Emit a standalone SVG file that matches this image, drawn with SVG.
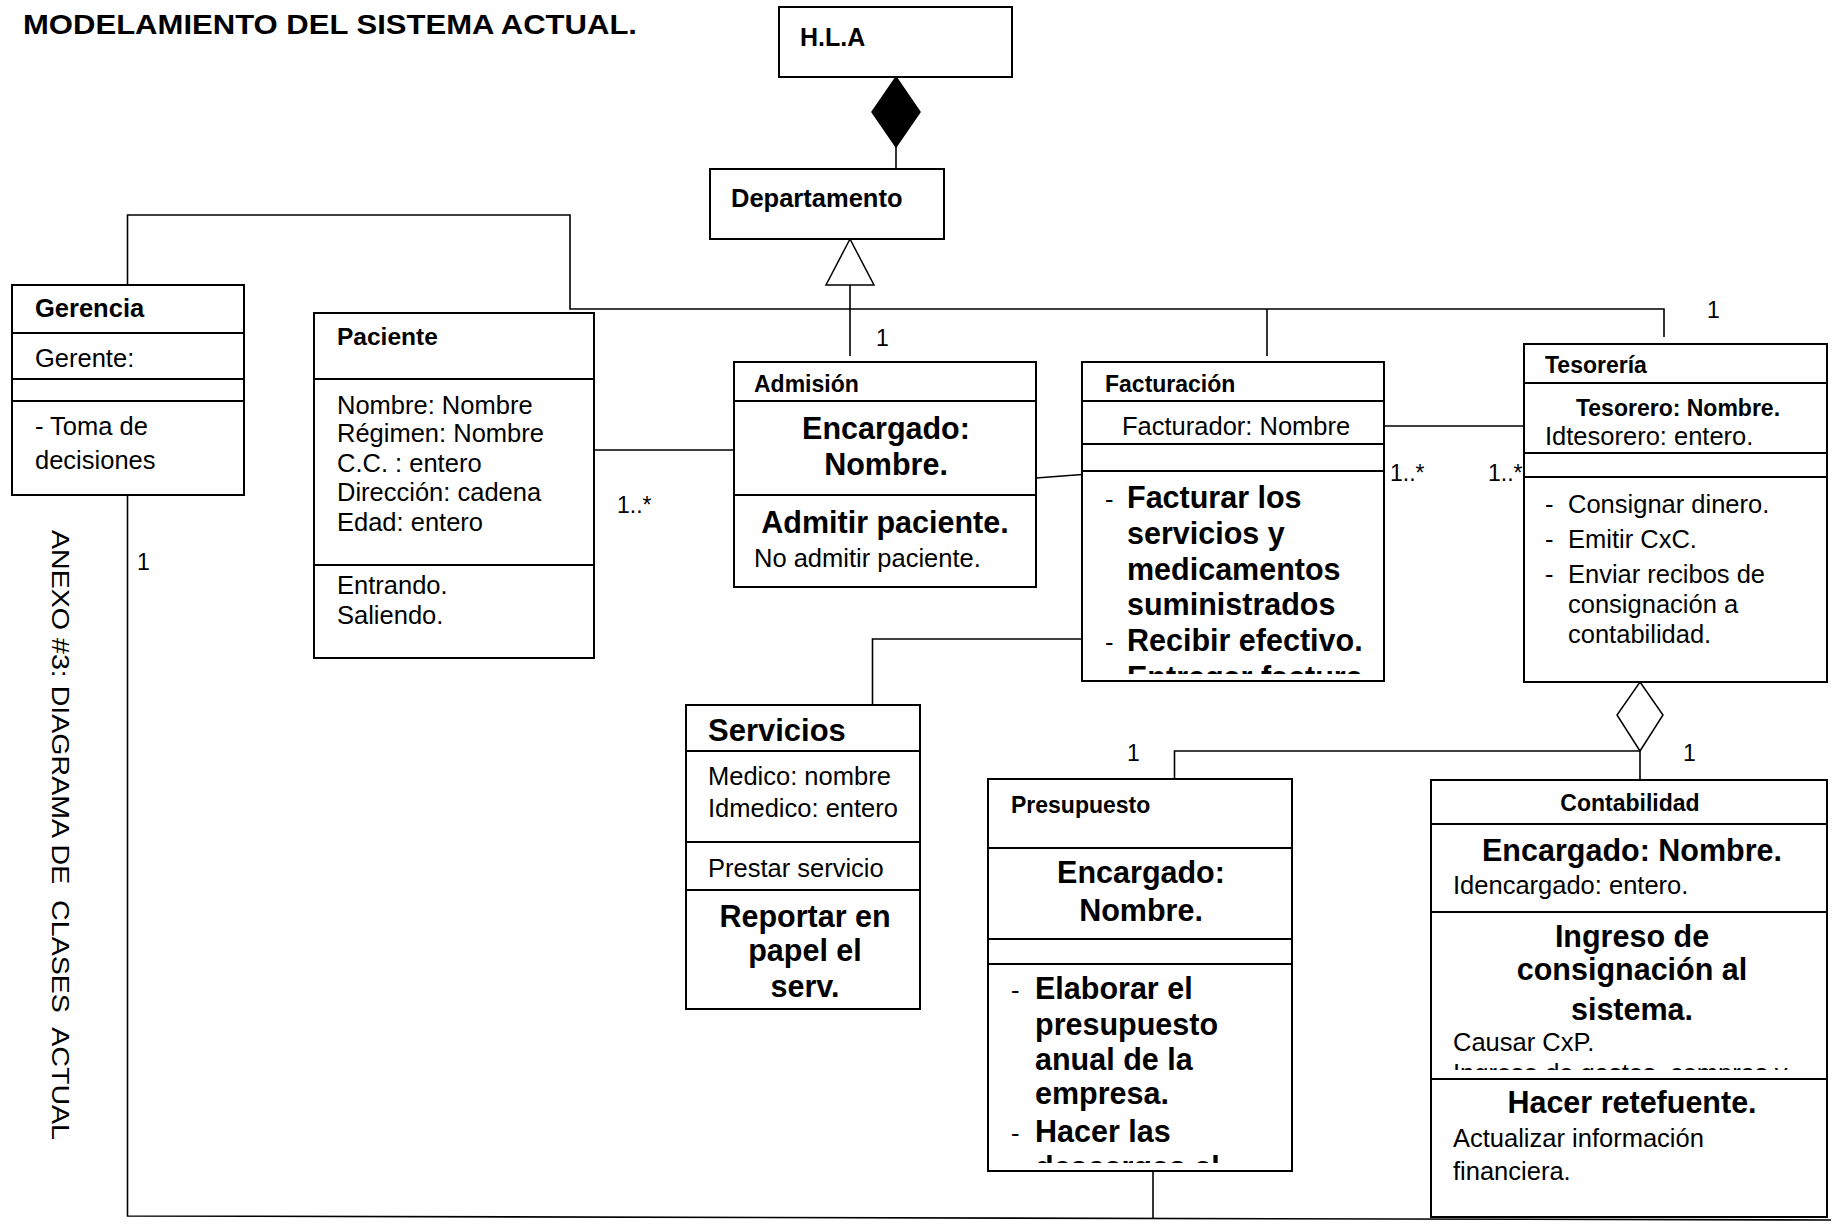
<svg xmlns="http://www.w3.org/2000/svg" width="1832" height="1225" viewBox="0 0 1832 1225">
<style>
text{font-family:"Liberation Sans",Arial,sans-serif;fill:#000}
.h{font-weight:bold;font-size:23px}
.r{font-size:25.5px}
.bb{font-weight:bold;font-size:30.5px}
.m{font-size:23px}
.c{text-anchor:middle}
.box{fill:#fff;stroke:#000;stroke-width:2}
.sep{stroke:#000;stroke-width:2}
.ln{fill:none;stroke:#000;stroke-width:1.6}
</style>
<defs>
<clipPath id="cF"><rect x="1083" y="472" width="300" height="202"/></clipPath>
<clipPath id="cP"><rect x="989" y="965" width="302" height="198"/></clipPath>
<clipPath id="cC"><rect x="1432" y="913" width="394" height="157"/></clipPath>
</defs>
<rect x="0" y="0" width="1832" height="1225" fill="#fff"/>
<text x="23" y="34" font-weight="bold" font-size="28" textLength="614" lengthAdjust="spacingAndGlyphs">MODELAMIENTO DEL SISTEMA ACTUAL.</text>
<text transform="translate(52,530) rotate(90)" font-size="23" textLength="610" lengthAdjust="spacingAndGlyphs" style="white-space:pre">ANEXO #3: DIAGRAMA DE  CLASES  ACTUAL</text>

<g id="connectors">
<polygon points="896,77 920,112 896,147 872,112" fill="#000" stroke="#000" stroke-width="1.5"/>
<line class="ln" x1="896" y1="147" x2="896" y2="169"/>
<polyline class="ln" points="127.5,285 127.5,215 570,215 570,309 1664,309 1664,337"/>
<line class="ln" x1="1267" y1="309" x2="1267" y2="356"/>
<line class="ln" x1="850" y1="285" x2="850" y2="356"/>
<polygon points="850,239 826,285 874,285" fill="#fff" stroke="#000" stroke-width="1.5"/>
<line class="ln" x1="594" y1="450" x2="734" y2="450"/>
<line class="ln" x1="1036" y1="478" x2="1128" y2="471"/>
<line class="ln" x1="1384" y1="426" x2="1524" y2="426"/>
<polyline class="ln" points="1082,639 872.5,639 872.5,705"/>
<line class="ln" x1="1640" y1="751" x2="1640" y2="780"/>
<polyline class="ln" points="1640,751 1174.5,751 1174.5,779"/>
<polyline class="ln" points="127.5,495 127.5,1216 1831,1220" stroke-width="2.2"/>
<line class="ln" x1="1153" y1="1171" x2="1153" y2="1218"/>
<text class="m" x="876" y="346" font-size="20">1</text>
<text class="m" x="617" y="513">1..*</text>
<text class="m" x="1390" y="481">1..*</text>
<text class="m" x="1488" y="481">1..*</text>
<text class="m" x="1707" y="318">1</text>
<text class="m" x="1127" y="761">1</text>
<text class="m" x="1683" y="761">1</text>
<text class="m" x="137" y="570">1</text>
</g>

<g id="hla">
<rect class="box" x="779" y="7" width="233" height="70"/>
<text x="800" y="46" font-weight="bold" font-size="25">H.L.A</text>
</g>

<g id="departamento">
<rect class="box" x="710" y="169" width="234" height="70"/>
<text x="731" y="207" font-weight="bold" font-size="25.5">Departamento</text>
</g>

<g id="gerencia">
<rect class="box" x="12" y="285" width="232" height="210"/>
<line class="sep" x1="12" y1="333" x2="244" y2="333"/>
<line class="sep" x1="12" y1="379" x2="244" y2="379"/>
<line class="sep" x1="12" y1="401" x2="244" y2="401"/>
<text x="35" y="317" font-weight="bold" font-size="25.5">Gerencia</text>
<text class="r" x="35" y="367" font-size="25">Gerente:</text>
<text class="r" x="35" y="435" font-size="25">- Toma de</text>
<text class="r" x="35" y="469" font-size="25">decisiones</text>
</g>

<g id="paciente">
<rect class="box" x="314" y="313" width="280" height="345"/>
<line class="sep" x1="314" y1="379" x2="594" y2="379"/>
<line class="sep" x1="314" y1="565" x2="594" y2="565"/>
<text x="337" y="345" font-weight="bold" font-size="24.5">Paciente</text>
<text class="r" x="337" y="414">Nombre: Nombre</text>
<text class="r" x="337" y="442">Régimen: Nombre</text>
<text class="r" x="337" y="472">C.C. : entero</text>
<text class="r" x="337" y="501">Dirección: cadena</text>
<text class="r" x="337" y="531">Edad: entero</text>
<text class="r" x="337" y="594">Entrando.</text>
<text class="r" x="337" y="624">Saliendo.</text>
</g>

<g id="admision">
<rect class="box" x="734" y="362" width="302" height="225"/>
<line class="sep" x1="734" y1="401" x2="1036" y2="401"/>
<line class="sep" x1="734" y1="495" x2="1036" y2="495"/>
<text class="h" x="754" y="392">Admisión</text>
<text class="bb c" x="886" y="439">Encargado:</text>
<text class="bb c" x="886" y="475">Nombre.</text>
<text class="bb c" x="885" y="533">Admitir paciente.</text>
<text class="r" x="754" y="567">No admitir paciente.</text>
</g>

<g id="facturacion">
<rect class="box" x="1082" y="362" width="302" height="319"/>
<line class="sep" x1="1082" y1="401" x2="1384" y2="401"/>
<line class="sep" x1="1082" y1="444" x2="1384" y2="444"/>
<line class="sep" x1="1082" y1="471" x2="1384" y2="471"/>
<text class="h" x="1105" y="392">Facturación</text>
<text class="r" x="1122" y="435">Facturador: Nombre</text>
<g clip-path="url(#cF)">
<text class="r" x="1105" y="508">-</text>
<text class="bb" x="1127" y="508">Facturar los</text>
<text class="bb" x="1127" y="544">servicios y</text>
<text class="bb" x="1127" y="580">medicamentos</text>
<text class="bb" x="1127" y="615">suministrados</text>
<text class="r" x="1105" y="651">-</text>
<text class="bb" x="1127" y="651">Recibir efectivo.</text>
<text class="r" x="1105" y="688">-</text>
<text class="bb" x="1127" y="688">Entregar factura</text>
</g>
</g>

<g id="tesoreria">
<rect class="box" x="1524" y="344" width="303" height="338"/>
<line class="sep" x1="1524" y1="383" x2="1827" y2="383"/>
<line class="sep" x1="1524" y1="453" x2="1827" y2="453"/>
<line class="sep" x1="1524" y1="477" x2="1827" y2="477"/>
<text class="h" x="1545" y="373">Tesorería</text>
<text class="h c" x="1678" y="416" font-size="24">Tesorero: Nombre.</text>
<text class="r" x="1545" y="445" font-size="22.5">Idtesorero: entero.</text>
<text class="r" x="1545" y="513">-</text>
<text class="r" x="1568" y="513">Consignar dinero.</text>
<text class="r" x="1545" y="548">-</text>
<text class="r" x="1568" y="548">Emitir CxC.</text>
<text class="r" x="1545" y="583">-</text>
<text class="r" x="1568" y="583">Enviar recibos de</text>
<text class="r" x="1568" y="613">consignación a</text>
<text class="r" x="1568" y="643">contabilidad.</text>
<polygon points="1640,682 1663,715 1640,751 1617,715" fill="#fff" stroke="#000" stroke-width="1.5"/>
</g>

<g id="servicios">
<rect class="box" x="686" y="705" width="234" height="304"/>
<line class="sep" x1="686" y1="751" x2="920" y2="751"/>
<line class="sep" x1="686" y1="842" x2="920" y2="842"/>
<line class="sep" x1="686" y1="890" x2="920" y2="890"/>
<text x="708" y="741" font-weight="bold" font-size="31">Servicios</text>
<text class="r" x="708" y="785">Medico: nombre</text>
<text class="r" x="708" y="817">Idmedico: entero</text>
<text class="r" x="708" y="877">Prestar servicio</text>
<text class="bb c" x="805" y="927">Reportar en</text>
<text class="bb c" x="805" y="961">papel el</text>
<text class="bb c" x="805" y="997">serv.</text>
</g>

<g id="presupuesto">
<rect class="box" x="988" y="779" width="304" height="392"/>
<line class="sep" x1="988" y1="848" x2="1292" y2="848"/>
<line class="sep" x1="988" y1="939" x2="1292" y2="939"/>
<line class="sep" x1="988" y1="964" x2="1292" y2="964"/>
<text class="h" x="1011" y="813" font-size="22.5">Presupuesto</text>
<text class="bb c" x="1141" y="883">Encargado:</text>
<text class="bb c" x="1141" y="921">Nombre.</text>
<g clip-path="url(#cP)">
<text class="r" x="1011" y="999">-</text>
<text class="bb" x="1035" y="999">Elaborar el</text>
<text class="bb" x="1035" y="1035">presupuesto</text>
<text class="bb" x="1035" y="1070">anual de la</text>
<text class="bb" x="1035" y="1104">empresa.</text>
<text class="r" x="1011" y="1142">-</text>
<text class="bb" x="1035" y="1142">Hacer las</text>
<text class="bb" x="1035" y="1178">descargas al</text>
</g>
</g>

<g id="contabilidad">
<rect class="box" x="1431" y="780" width="396" height="437"/>
<line class="sep" x1="1431" y1="824" x2="1827" y2="824"/>
<line class="sep" x1="1431" y1="912" x2="1827" y2="912"/>
<line class="sep" x1="1431" y1="1079" x2="1827" y2="1079"/>
<text class="h c" x="1630" y="811">Contabilidad</text>
<text class="bb c" x="1632" y="861">Encargado: Nombre.</text>
<text class="r" x="1453" y="894">Idencargado: entero.</text>
<text class="bb c" x="1632" y="947">Ingreso de</text>
<text class="bb c" x="1632" y="980">consignación al</text>
<text class="bb c" x="1632" y="1020">sistema.</text>
<g clip-path="url(#cC)">
<text class="r" x="1453" y="1051">Causar CxP.</text>
<text class="r" x="1453" y="1082">Ingreso de gastos, compras  y</text>
</g>
<text class="bb c" x="1632" y="1113">Hacer retefuente.</text>
<text class="r" x="1453" y="1147">Actualizar información</text>
<text class="r" x="1453" y="1180">financiera.</text>
</g>
</svg>
